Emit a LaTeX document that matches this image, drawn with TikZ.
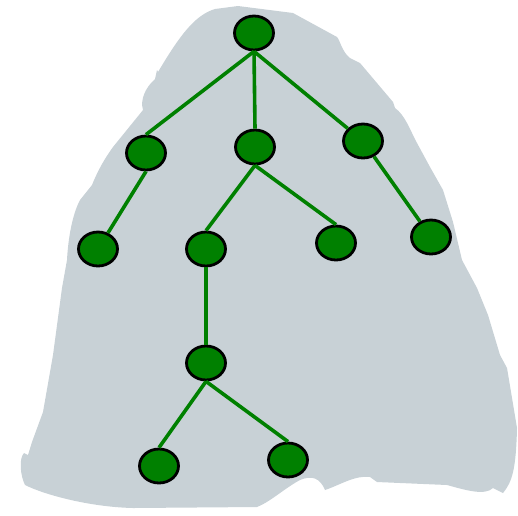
\documentclass[tikz,border=0pt]{standalone}
\usepackage{tikz}
\usetikzlibrary{shapes.geometric}
\definecolor{blobgray}{RGB}{200,209,214}
\definecolor{treegreen}{RGB}{0,128,0}

\begin{document}
\begin{tikzpicture}[x=1pt,y=-1pt,
    vertex/.style={ellipse,draw=black,line width=2.8pt,fill=treegreen,
                   minimum width=39pt,minimum height=34pt,inner sep=0pt},
    branch/.style={draw=treegreen,line width=3.6pt}]
    \useasboundingbox (0,0) rectangle (518,515);
    \fill[blobgray] (238,6) -- (215,9) .. controls (195,15) and (180,35) .. (158,72)
        -- (157,70) -- (155,79) .. controls (145,88) and (140,100) .. (143,110)
        -- (113,147) .. controls (105,158) and (98,170) .. (92,185)
        -- (80,200) .. controls (72,215) and (68,240) .. (67,260)
        -- (62,288) -- (53,355) -- (43,412) -- (32,442) -- (28,455)
        -- (24,453) .. controls (19,458) and (20,475) .. (25,485)
        .. controls (45,495) and (90,507) .. (133,508) -- (257,507)
        .. controls (270,502) and (285,488) .. (300,480)
        .. controls (312,475) and (320,478) .. (325,490)
        .. controls (340,485) and (355,475) .. (370,477) -- (377,482)
        -- (447,485) .. controls (465,490) and (485,496) .. (493,488)
        -- (503,493) .. controls (512,482) and (516,470) .. (517,428)
        -- (507,368) -- (500,355) -- (488,315) -- (477,288) -- (462,260)
        -- (453,222) -- (443,190) -- (430,167) -- (417,143)
        .. controls (410,130) and (405,115) .. (395,108) -- (393,102)
        -- (360,63) -- (350,58) .. controls (342,52) and (340,40) .. (337,37)
        -- (293,13) -- cycle;
    \node[vertex] (root) at (254,33) {};
    \node[vertex] (left) at (146,153) {};
    \node[vertex] (mid) at (255,147) {};
    \node[vertex] (right) at (363,141) {};
    \node[vertex] (leftleaf) at (98,249) {};
    \node[vertex] (midA) at (206,249) {};
    \node[vertex] (midB) at (336,243) {};
    \node[vertex] (rightleaf) at (431,237) {};
    \node[vertex] (chain) at (206,363) {};
    \node[vertex] (lowA) at (159,466) {};
    \node[vertex] (lowB) at (288,460) {};
    \draw[branch] (root.south) -- (left.north);
    \draw[branch] (root.south) -- (mid.north);
    \draw[branch] (root.south) -- (right);
    \draw[branch] (left.south) -- (leftleaf);
    \draw[branch] (mid.south) -- (midA.north);
    \draw[branch] (mid.south) -- (midB.north);
    \draw[branch] (right) -- (rightleaf);
    \draw[branch] (midA) -- (chain);
    \draw[branch] (chain.south) -- (lowA.north);
    \draw[branch] (chain.south) -- (lowB.north);
\end{tikzpicture}
\end{document}
